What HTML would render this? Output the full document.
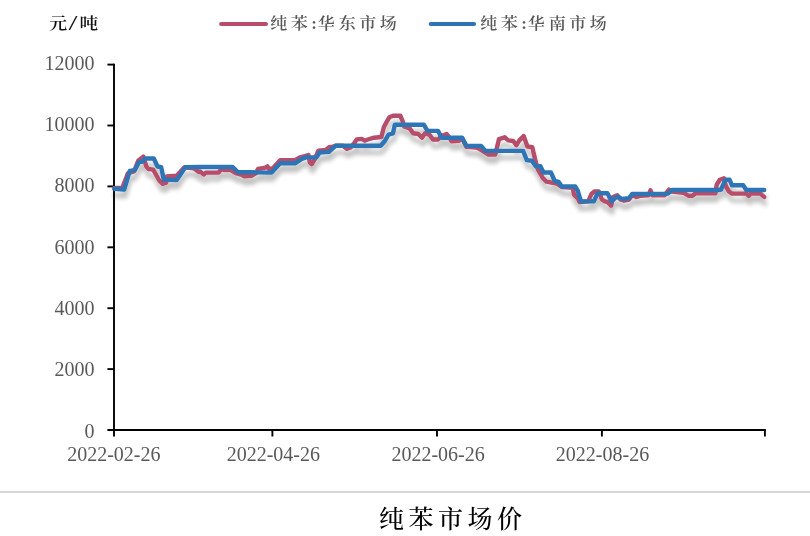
<!DOCTYPE html>
<html lang="zh"><head><meta charset="utf-8"><title>纯苯市场价</title>
<style>
html,body{margin:0;padding:0;background:#fff;}
body{width:810px;height:536px;overflow:hidden;position:relative;font-family:"Liberation Serif","Noto Serif CJK SC",serif;}
svg{position:absolute;left:0;top:0;display:block}
.num{font-family:"Liberation Serif",serif;font-size:20px;fill:#595959}
.kai{font-family:"Liberation Serif","Noto Serif CJK SC",serif;}
</style></head><body>
<svg width="810" height="536" viewBox="0 0 810 536">
<defs>
<filter id="sh" x="-5%" y="-30%" width="110%" height="180%">
<feGaussianBlur in="SourceAlpha" stdDeviation="2.3"/>
<feOffset dx="0.6" dy="7" result="o"/>
<feComponentTransfer><feFuncA type="linear" slope="0.24"/></feComponentTransfer>
<feMerge><feMergeNode/><feMergeNode in="SourceGraphic"/></feMerge>
</filter>
</defs>
<rect width="810" height="536" fill="#fff"/>
<!-- axes -->
<g stroke="#000" stroke-width="1.9" fill="none">
<line x1="114.0" y1="63.64999999999999" x2="114.0" y2="436.5"/>
<line x1="107.4" y1="430.0" x2="765.85" y2="430.0"/>
<line x1="107.4" y1="369.1" x2="114.0" y2="369.1"/>
<line x1="107.4" y1="308.2" x2="114.0" y2="308.2"/>
<line x1="107.4" y1="247.3" x2="114.0" y2="247.3"/>
<line x1="107.4" y1="186.4" x2="114.0" y2="186.4"/>
<line x1="107.4" y1="125.5" x2="114.0" y2="125.5"/>
<line x1="107.4" y1="64.6" x2="114.0" y2="64.6"/>
<line x1="272.4" y1="430.0" x2="272.4" y2="436.5"/>
<line x1="437.0" y1="430.0" x2="437.0" y2="436.5"/>
<line x1="601.9" y1="430.0" x2="601.9" y2="436.5"/>
<line x1="764.9" y1="430.0" x2="764.9" y2="436.5"/>
</g>
<g class="num" text-anchor="end">
<text x="94.6" y="437.5">0</text>
<text x="94.6" y="376.2">2000</text>
<text x="94.6" y="314.9">4000</text>
<text x="94.6" y="253.5">6000</text>
<text x="94.6" y="192.2">8000</text>
<text x="94.6" y="130.9">10000</text>
<text x="94.6" y="69.6">12000</text>
</g>
<g class="num" text-anchor="middle">
<text x="113.8" y="461.3">2022-02-26</text>
<text x="273.3" y="461.3">2022-04-26</text>
<text x="438.1" y="461.3">2022-06-26</text>
<text x="602.5" y="461.3">2022-08-26</text>
</g>
<g filter="url(#sh)" fill="none" stroke-linejoin="round" stroke-linecap="round" stroke-width="4.4">
<polyline stroke="#b64d6a" points="114.3,188.0 122.3,188.0 127.9,173.3 134.0,171.5 138.4,160.4 143.3,156.7 146.4,166.5 148.3,169.0 153.2,169.6 159.4,180.7 162.5,183.8 166.2,182.6 166.8,176.4 176.7,175.8 184.5,167.2 194.0,168.4 198.9,172.1 200.0,171.4 203.7,174.4 206.0,172.6 218.5,172.6 221.6,168.9 224.7,170.1 230.9,170.1 235.8,173.2 242.0,175.0 244.4,176.3 251.9,175.7 256.2,173.2 258.0,168.9 265.4,167.7 267.3,166.4 269.1,168.9 272.8,168.3 280.2,160.2 295.0,160.2 299.9,157.4 304.8,156.2 308.5,155.0 309.8,162.3 311.6,164.2 314.7,159.3 318.4,150.6 325.8,150.0 329.5,146.9 332.5,146.9 336.0,145.7 343.0,145.7 346.8,148.8 350.5,147.5 354.2,143.2 356.7,139.5 361.6,138.9 364.7,140.7 367.8,139.5 374.0,137.7 381.4,137.0 383.8,127.2 386.8,121.6 389.3,117.3 393.0,115.8 400.4,115.8 402.8,121.6 404.1,126.5 409.6,128.4 413.3,133.3 418.3,134.0 422.0,137.7 425.0,133.3 429.4,134.6 433.0,139.5 438.0,139.5 441.7,135.8 446.7,134.0 449.1,137.0 451.6,141.4 459.0,140.7 462.1,138.3 466.4,146.9 476.3,147.5 478.6,148.4 488.5,154.6 495.3,154.6 499.0,139.1 504.6,137.3 508.3,140.4 513.2,141.0 516.3,145.3 519.4,140.4 523.7,136.0 527.4,146.5 532.3,147.2 535.4,160.7 537.9,169.4 542.8,178.0 546.5,181.7 554.0,183.0 557.4,184.0 561.8,187.0 572.8,187.8 574.0,194.6 577.8,198.3 579.6,202.0 588.3,201.4 591.4,194.0 594.4,191.5 598.8,191.5 601.9,199.5 604.9,201.4 607.4,202.0 611.1,205.7 613.0,197.0 617.3,195.2 620.4,199.5 624.0,200.7 629.0,199.5 632.1,195.2 636.4,197.0 640.0,195.8 648.6,195.2 650.5,190.2 652.3,195.2 664.7,195.2 669.0,189.6 672.1,191.5 683.2,192.7 688.8,195.8 692.5,195.8 695.6,193.3 715.4,193.3 716.7,184.7 719.8,179.8 724.0,178.3 726.0,186.5 729.0,191.5 732.0,193.6 746.3,193.6 748.8,195.8 750.6,193.6 760.5,193.6 764.2,197.0"/>
<polyline stroke="#2e75b6" points="114.3,188.8 124.2,189.5 129.8,170.9 134.7,170.2 139.0,162.2 142.7,161.6 145.2,158.5 153.8,158.5 157.5,166.5 161.2,167.2 163.7,179.5 176.7,180.1 185.3,167.2 200.0,167.0 232.7,167.0 237.7,172.0 271.6,172.6 280.2,163.3 295.0,163.3 301.1,159.3 306.0,157.4 316.5,157.4 319.6,152.5 328.9,151.9 335.7,145.7 380.7,145.7 385.0,140.7 388.6,134.6 393.0,133.3 394.8,124.7 423.8,124.7 427.5,130.9 438.0,130.9 441.7,137.7 462.1,137.7 466.4,145.7 481.1,145.9 485.4,150.9 523.1,150.9 526.8,160.1 531.7,160.7 536.0,166.3 540.4,166.3 543.5,172.5 550.9,172.5 554.8,181.0 558.7,182.0 561.8,186.5 575.3,186.5 577.8,190.9 580.9,201.4 593.8,201.4 597.5,193.3 607.4,193.3 611.7,201.4 615.4,197.7 618.5,197.0 621.6,198.9 629.0,198.3 632.1,194.0 667.8,193.6 672.1,190.0 718.5,190.0 721.0,189.6 724.7,181.0 726.5,179.8 729.6,179.8 732.0,185.3 743.2,185.3 746.3,190.0 764.2,190.0"/>
</g>
<!-- legend -->
<g fill="none" stroke-linecap="round" stroke-width="4">
<line x1="221.1" y1="23.9" x2="266" y2="23.9" stroke="#b64d6a"/>
<line x1="430.7" y1="23.9" x2="474.1" y2="23.9" stroke="#2e75b6"/>
</g>
<g class="kai" font-size="17" font-weight="600" fill="#595959">
<text transform="translate(0,28.6) scale(1,0.95)" x="270.3 290.8 311.3 317.8 338.8 359.3 379.8">纯苯:华东市场</text>
<text transform="translate(0,28.6) scale(1,0.95)" x="480.3 500.8 521.3 527.8 548.8 569.3 589.8">纯苯:华南市场</text>
</g>
<g class="kai" font-size="17" font-weight="600" fill="#111">
<text transform="translate(49.3,28.5) scale(1.05,0.92)">元</text>
<text transform="translate(68.6,29.7) scale(1.8,1.15)" font-size="18" font-weight="400">/</text>
<text transform="translate(79.6,28.5) scale(1.1,0.92)">吨</text>
</g>
<rect x="0" y="490.9" width="810" height="2.1" fill="#d6d6d6"/>
<text class="kai" font-size="25" font-weight="500" fill="#000" y="527.5" x="379 408.5 438 467.5 497">纯苯市场价</text>
</svg>
</body></html>
